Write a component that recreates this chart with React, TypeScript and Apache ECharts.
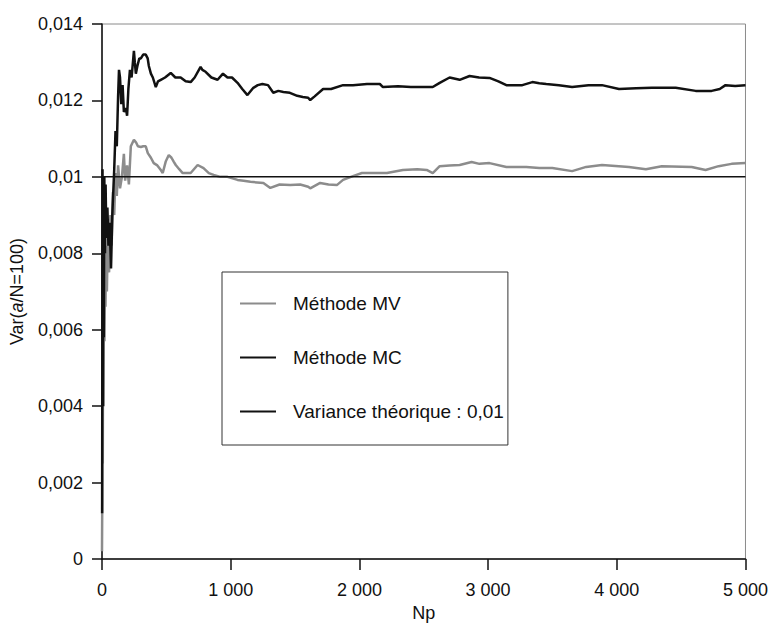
import { useEffect, useRef } from "react";
import * as echarts from "echarts";

// Np values and variance estimates
const npMV = [
  0, 2, 4, 6, 9, 12, 15, 19, 23, 27, 32, 38, 45, 55, 65, 75, 85, 95, 105, 115,
  125, 140, 155, 170, 180, 195, 209, 224, 248, 265, 279, 302, 320, 340, 356, 380,
  402, 430, 457, 472, 495, 519, 540, 557, 573, 600, 627, 689, 743, 789, 830, 867,
  920, 975, 1053, 1100, 1153, 1254, 1308, 1380, 1463, 1540, 1602, 1618, 1695, 1760,
  1827, 1873, 1950, 2020, 2105, 2214, 2338, 2450, 2523, 2570, 2624, 2700, 2779,
  2872, 2933, 3011, 3142, 3297, 3398, 3499, 3653, 3762, 3885, 4094, 4226, 4350,
  4582, 4690, 4791, 4892, 5000
];
const varMV = [
  0.0002, 0.0015, 0.0058, 0.0025, 0.0072, 0.004, 0.008, 0.0057, 0.0078, 0.0066,
  0.0082, 0.007, 0.0085, 0.0075, 0.009, 0.0082, 0.0096, 0.009, 0.0101, 0.0095,
  0.0103, 0.0097, 0.01, 0.0106, 0.0099, 0.0103, 0.0098, 0.0108, 0.01097, 0.0109,
  0.0108, 0.01078, 0.0108, 0.0108, 0.01062, 0.0105, 0.01036, 0.0103, 0.01018,
  0.0101, 0.0104, 0.01057, 0.0105, 0.0104, 0.01031, 0.0102, 0.0101, 0.0101,
  0.01031, 0.01023, 0.0101, 0.01005, 0.01, 0.01, 0.00992, 0.0099, 0.00987,
  0.00984, 0.00971, 0.0098, 0.00979, 0.0098, 0.00974, 0.0097, 0.00984, 0.0098,
  0.00979, 0.00992, 0.01002, 0.0101, 0.0101, 0.0101, 0.01018, 0.0102, 0.01018,
  0.0101, 0.01028, 0.0103, 0.01031, 0.01039, 0.01034, 0.01036, 0.01026, 0.01026,
  0.01023, 0.01023, 0.01015, 0.01026, 0.01031, 0.01026, 0.0102, 0.01028, 0.01026,
  0.01018, 0.01028, 0.01034, 0.01036
];

const npMC = [
  1, 4, 7, 10, 14, 18, 23, 28, 34, 42, 50, 60, 70, 80, 95, 105, 115, 125, 132,
  140, 150, 160, 170, 185, 195, 205, 217, 230, 248, 255, 263, 275, 290, 302, 320,
  340, 355, 364, 380, 395, 418, 435, 457, 490, 534, 570, 611, 650, 689, 720, 766,
  780, 805, 850, 898, 940, 975, 1010, 1053, 1090, 1130, 1176, 1210, 1246, 1290,
  1331, 1370, 1409, 1460, 1517, 1560, 1602, 1618, 1650, 1718, 1780, 1873, 1950,
  2059, 2159, 2183, 2300, 2400, 2570, 2624, 2701, 2779, 2856, 2930, 3011, 3080,
  3142, 3266, 3344, 3398, 3452, 3550, 3653, 3780, 3885, 4017, 4150, 4272, 4458,
  4613, 4737, 4800, 4845, 4920, 5000
];
const varMC = [
  0.0012, 0.0102, 0.004, 0.0095, 0.0058, 0.01, 0.008, 0.0098, 0.0084, 0.0092,
  0.0082, 0.0088, 0.0076, 0.009, 0.0102, 0.0112, 0.0108, 0.0121, 0.0128, 0.0126,
  0.0119, 0.0124, 0.0117, 0.0118, 0.0116, 0.0123, 0.0128, 0.0126, 0.0133, 0.013,
  0.0127, 0.0129, 0.0131, 0.0131, 0.0132, 0.0132, 0.0131, 0.0129, 0.0127, 0.0126,
  0.01235, 0.0125, 0.01254, 0.0126, 0.01272, 0.0126, 0.0126, 0.0125, 0.01248,
  0.0126, 0.01288, 0.0128, 0.01275, 0.0126, 0.01254, 0.0127, 0.0126, 0.0126,
  0.01246, 0.0123, 0.01214, 0.01233, 0.0124, 0.01243, 0.0124, 0.0122, 0.01225,
  0.01222, 0.0122, 0.01212, 0.01209, 0.01207, 0.01201, 0.0121, 0.0123, 0.0123,
  0.0124, 0.0124, 0.01243, 0.01243, 0.01235, 0.01237, 0.01235, 0.01235, 0.01246,
  0.0126, 0.01254, 0.01264, 0.0126, 0.01259, 0.0125, 0.0124, 0.0124, 0.01248,
  0.01245, 0.01243, 0.0124, 0.01235, 0.0124, 0.0124, 0.0123, 0.01232, 0.01233,
  0.01233, 0.01225, 0.01225, 0.0123, 0.0124, 0.01238, 0.0124
];

const theoreticalVar = 0.01;
const npRange = [0, 5000];

const seriesNames = ["Méthode MV", "Méthode MC", "Variance théorique : 0,01"];
const xTickLabels = ["0", "1 000", "2 000", "3 000", "4 000", "5 000"];
const yTickLabels = ["0", "0,002", "0,004", "0,006", "0,008", "0,01", "0,012", "0,014"];

const FONT = '"Liberation Sans", Arial, sans-serif';

function App() {
  const chartRef = useRef<HTMLDivElement>(null);

  useEffect(() => {
    document.body.style.margin = "0";
    const chart = echarts.init(chartRef.current, null, { renderer: "svg" });

    chart.setOption({
      animation: false,
      backgroundColor: "#fff",
      textStyle: { fontFamily: FONT, color: "#111" },
      grid: {
        left: 101,
        right: 24,
        top: 24,
        bottom: 75,
        show: true,
        borderColor: "#8a8a8a",
        borderWidth: 1
      },
      legend: {
        orient: "vertical",
        left: 222,
        top: 272,
        icon: "rect",
        itemWidth: 36,
        itemHeight: 2,
        itemGap: 33,
        padding: [21, 4, 23, 18],
        borderColor: "#333",
        borderWidth: 1,
        textStyle: {
          fontFamily: FONT,
          fontSize: 19,
          lineHeight: 21,
          color: "#111",
          padding: [0, 0, 0, 12]
        },
        data: seriesNames
      },
      xAxis: {
        type: "value",
        min: 0,
        max: 5000,
        interval: 1000,
        name: "Np",
        nameLocation: "middle",
        nameGap: 44,
        nameTextStyle: { fontFamily: FONT, fontSize: 18, color: "#111" },
        axisLine: { lineStyle: { color: "#111", width: 1.5 } },
        axisTick: { length: 11, lineStyle: { color: "#111", width: 1.5 } },
        axisLabel: {
          margin: 22,
          fontFamily: FONT,
          fontSize: 18,
          color: "#111",
          formatter: (v: number) => xTickLabels[Math.round(v / 1000)]
        },
        splitLine: { show: false }
      },
      yAxis: {
        type: "value",
        min: 0,
        max: 0.014,
        interval: 0.002,
        name: "Var({i|a}/N=100)",
        nameLocation: "middle",
        nameGap: 76,
        nameTextStyle: {
          fontFamily: FONT,
          fontSize: 18,
          color: "#111",
          rich: { i: { fontFamily: FONT, fontSize: 18, fontStyle: "italic", color: "#111" } }
        },
        axisLine: { lineStyle: { color: "#111", width: 1.5 } },
        axisTick: { length: 10, lineStyle: { color: "#111", width: 1.5 } },
        axisLabel: {
          margin: 19,
          fontFamily: FONT,
          fontSize: 18,
          color: "#111",
          formatter: (v: number) => yTickLabels[Math.round(v / 0.002)]
        },
        splitLine: { show: false }
      },
      series: [
        {
          name: seriesNames[0],
          type: "line",
          symbol: "none",
          data: npMV.map((x, i) => [x, varMV[i]]),
          lineStyle: { color: "#8c8c8c", width: 2.5 },
          itemStyle: { color: "#8c8c8c" }
        },
        {
          name: seriesNames[1],
          type: "line",
          symbol: "none",
          data: npMC.map((x, i) => [x, varMC[i]]),
          lineStyle: { color: "#111", width: 2.5 },
          itemStyle: { color: "#111" }
        },
        {
          name: seriesNames[2],
          type: "line",
          symbol: "none",
          data: npRange.map((x) => [x, theoreticalVar]),
          lineStyle: { color: "#111", width: 1.5 },
          itemStyle: { color: "#111" }
        }
      ]
    });

    return () => {
      chart.dispose();
    };
  }, []);

  return <div ref={chartRef} style={{ width: "771px", height: "634px" }}></div>;
}

export default App;
